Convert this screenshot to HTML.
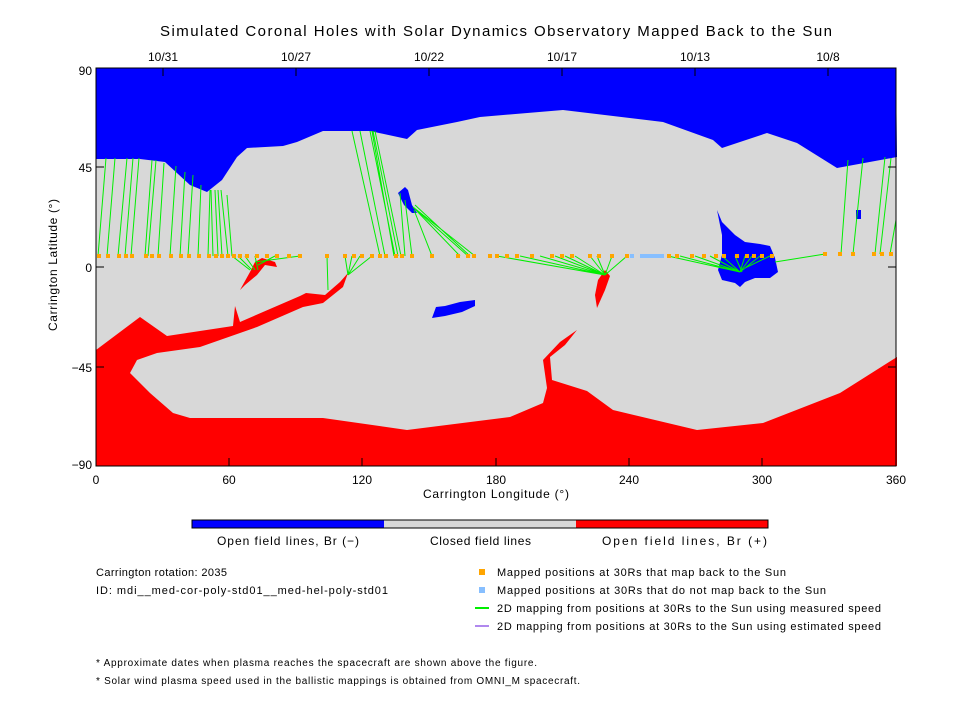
<!DOCTYPE html>
<html><head><meta charset="utf-8"><style>
body{margin:0;background:#fff;width:960px;height:720px;overflow:hidden}
text{font-family:"Liberation Sans",sans-serif;fill:#000}
</style></head><body>
<svg width="960" height="720" xmlns="http://www.w3.org/2000/svg">
<text x="160" y="36" font-size="15" textLength="672" lengthAdjust="spacing">Simulated Coronal Holes with Solar Dynamics Observatory Mapped Back to the Sun</text>
<g font-size="12" text-anchor="middle">
<text x="163" y="61">10/31</text><text x="296" y="61">10/27</text><text x="429" y="61">10/22</text><text x="562" y="61">10/17</text><text x="695" y="61">10/13</text><text x="828" y="61">10/8</text>
</g>
<rect x="96" y="68" width="800" height="398" fill="#d8d8d8"/>
<polygon fill="#0000ff" points="96,68 896,68 897,157 837,168 797,143 767,133 740,142 722,148 713,140 663,122 563,110 480,117 457,122 417,130 407,139 370,131 323,131 297,142 283,146 247,148 237,157 222,180 207,192 190,185 165,162 140,159 96,159"/>
<polygon fill="#ff0000" points="96,350 140,317 167,336 233,326 235,306 240,322 300,296 306,293 325,295 340,282 348,273 343,287 323,303 303,307 257,327 200,347 157,353 137,360 130,373 150,393 173,413 190,418 323,418 407,430 510,417 543,403 547,388 543,360 560,342 577,330 565,345 550,357 552,380 587,391 613,410 697,430 763,423 840,393 897,357 897,466 96,466"/>
<polygon fill="#ff0000" points="240,290 250,272 255,262 262,258 275,262 277,267 265,265 257,275 245,285"/>
<polygon fill="#ff0000" points="605,270 610,276 605,290 597,308 595,295 598,280"/>
<polygon fill="#0000ff" points="717,210 722,222 735,235 745,242 760,244 770,246 775,258 778,272 770,278 755,278 745,282 740,287 735,283 722,280 718,270 722,255 722,235"/>
<polygon fill="#0000ff" points="398,193 405,187 408,190 412,205 417,213 412,213 404,205"/>
<polygon fill="#0000ff" points="432,318 436,307 445,306 460,302 475,300 475,306 462,312 445,316"/>
<rect x="856" y="210" width="5" height="9" fill="#0000ff"/>
<g stroke="#00ee00" stroke-width="1" fill="none">
<path d="M98,256L106,158M107,256L115,158M118,256L127,158M125,256L133,158M131,256L139,158M145,256L152,160M148,256L156,160M158,256L164,163M170,256L176,166M180,256L185,172M188,256L193,175M198,256L201,185M208,256L210,190M213,256L211,190M218,256L215,190M222,256L218,190M228,256L221,190M232,256L227,195"/>
<path d="M232,256L250,270M238,256L252,270M245,256L255,270M255,256L258,270M300,256L255,262M275,256L258,265"/>
<path d="M327,256L328,290M345,256L348,275M352,256L348,275M360,256L348,275M372,256L348,275"/>
<path d="M380,256L352,131M385,256L360,131M395,256L370,131M398,256L373,131M394,256L372,131M401,256L375,131"/>
<path d="M405,256L400,193M412,256L405,200M432,256L414,210M460,256L413,207M468,256L413,207M475,256L413,207M470,256L415,205"/>
<path d="M497,256L605,275M520,256L605,275M540,256L605,275M555,256L605,275M565,256L605,275M575,256L605,275M590,256L605,275M597,256L605,275M612,256L605,275M627,256L605,275"/>
<path d="M668,256L740,272M680,256L740,272M695,256L740,272M710,256L740,272M722,256L740,272M735,256L742,272M745,256L740,272M752,256L740,272M760,256L740,272M770,256L745,268M825,254L775,262"/>
<path d="M841,254L848,160M853,254L863,158M875,254L885,157M880,254L891,158M890,254L896,220"/>
</g>
<g fill="#ffa500">
<path d="M97,254h4v4h-4zM106,254h4v4h-4zM117,254h4v4h-4zM124,254h4v4h-4zM130,254h4v4h-4zM144,254h4v4h-4zM150,254h4v4h-4zM157,254h4v4h-4zM169,254h4v4h-4zM179,254h4v4h-4zM187,254h4v4h-4zM197,254h4v4h-4zM207,254h4v4h-4zM214,254h4v4h-4zM220,254h4v4h-4zM226,254h4v4h-4zM232,254h4v4h-4zM238,254h4v4h-4zM245,254h4v4h-4zM255,254h4v4h-4zM265,254h4v4h-4zM275,254h4v4h-4zM287,254h4v4h-4zM298,254h4v4h-4zM325,254h4v4h-4zM343,254h4v4h-4zM352,254h4v4h-4zM360,254h4v4h-4zM370,254h4v4h-4zM378,254h4v4h-4zM384,254h4v4h-4zM394,254h4v4h-4zM400,254h4v4h-4zM410,254h4v4h-4zM430,254h4v4h-4zM456,254h4v4h-4zM466,254h4v4h-4zM472,254h4v4h-4zM488,254h4v4h-4zM495,254h4v4h-4zM505,254h4v4h-4zM515,254h4v4h-4zM530,254h4v4h-4zM550,254h4v4h-4zM560,254h4v4h-4zM570,254h4v4h-4zM588,254h4v4h-4zM597,254h4v4h-4zM610,254h4v4h-4zM625,254h4v4h-4zM667,254h4v4h-4zM675,254h4v4h-4zM690,254h4v4h-4zM702,254h4v4h-4zM714,254h4v4h-4zM722,254h4v4h-4zM735,254h4v4h-4zM745,254h4v4h-4zM752,254h4v4h-4zM760,254h4v4h-4zM770,254h4v4h-4zM823,252h4v4h-4zM838,252h4v4h-4zM851,252h4v4h-4zM872,252h4v4h-4zM880,252h4v4h-4zM889,252h4v4h-4z"/>
</g>
<g fill="#87bfff"><path d="M630,254h4v4h-4zM640,254h24v4h-24z"/></g>
<rect x="96" y="68" width="800" height="398" fill="none" stroke="#000" stroke-width="1"/>
<g stroke="#000">
<path d="M96,267h8M96,167h8M96,367h8M896,267h-8M896,167h-8M896,367h-8M229,466v-8M362,466v-8M496,466v-8M629,466v-8M762,466v-8M163,68v8M296,68v8M429,68v8M562,68v8M695,68v8M828,68v8"/>
</g>
<g font-size="12" text-anchor="end">
<text x="92" y="75">90</text><text x="92" y="172">45</text><text x="92" y="272">0</text><text x="92" y="372">−45</text><text x="92" y="469">−90</text>
</g>
<g font-size="12" text-anchor="middle">
<text x="96" y="484">0</text><text x="229" y="484">60</text><text x="362" y="484">120</text><text x="496" y="484">180</text><text x="629" y="484">240</text><text x="762" y="484">300</text><text x="896" y="484">360</text>
</g>
<text x="423" y="498" font-size="12" textLength="146" lengthAdjust="spacing">Carrington Longitude (°)</text>
<text x="201" y="59" font-size="12" textLength="132" lengthAdjust="spacing" transform="rotate(-90 130 130) translate(-272 -2)">Carrington Latitude (°)</text>
<rect x="192" y="520" width="192" height="8" fill="#0000ff"/>
<rect x="384" y="520" width="192" height="8" fill="#d8d8d8"/>
<rect x="576" y="520" width="192" height="8" fill="#ff0000"/>
<rect x="192" y="520" width="576" height="8" fill="none" stroke="#000"/>
<g font-size="12">
<text x="217" y="545" textLength="142" lengthAdjust="spacing">Open field lines, Br (−)</text>
<text x="430" y="545" textLength="101" lengthAdjust="spacing">Closed field lines</text>
<text x="602" y="545" textLength="165" lengthAdjust="spacing">Open field lines, Br (+)</text>
</g>
<g font-size="11">
<text x="96" y="576" textLength="131" lengthAdjust="spacing">Carrington rotation: 2035</text>
<text x="96" y="594" textLength="292" lengthAdjust="spacing">ID: mdi__med-cor-poly-std01__med-hel-poly-std01</text>
<text x="497" y="576" textLength="289" lengthAdjust="spacing">Mapped positions at 30Rs that map back to the Sun</text>
<text x="497" y="594" textLength="329" lengthAdjust="spacing">Mapped positions at 30Rs that do not map back to the Sun</text>
<text x="497" y="612" textLength="384" lengthAdjust="spacing">2D mapping from positions at 30Rs to the Sun using measured speed</text>
<text x="497" y="630" textLength="384" lengthAdjust="spacing">2D mapping from positions at 30Rs to the Sun using estimated speed</text>
<text x="96" y="666" font-size="10" textLength="441" lengthAdjust="spacing">* Approximate dates when plasma reaches the spacecraft are shown above the figure.</text>
<text x="96" y="684" font-size="10" textLength="484" lengthAdjust="spacing">* Solar wind plasma speed used in the ballistic mappings is obtained from OMNI_M spacecraft.</text>
</g>
<rect x="479" y="569" width="6" height="6" fill="#ffa500"/>
<rect x="479" y="587" width="6" height="6" fill="#87bfff"/>
<rect x="475" y="607" width="14" height="2" fill="#00ee00"/>
<rect x="475" y="625" width="14" height="2" fill="#b088ee"/>
</svg>
</body></html>
